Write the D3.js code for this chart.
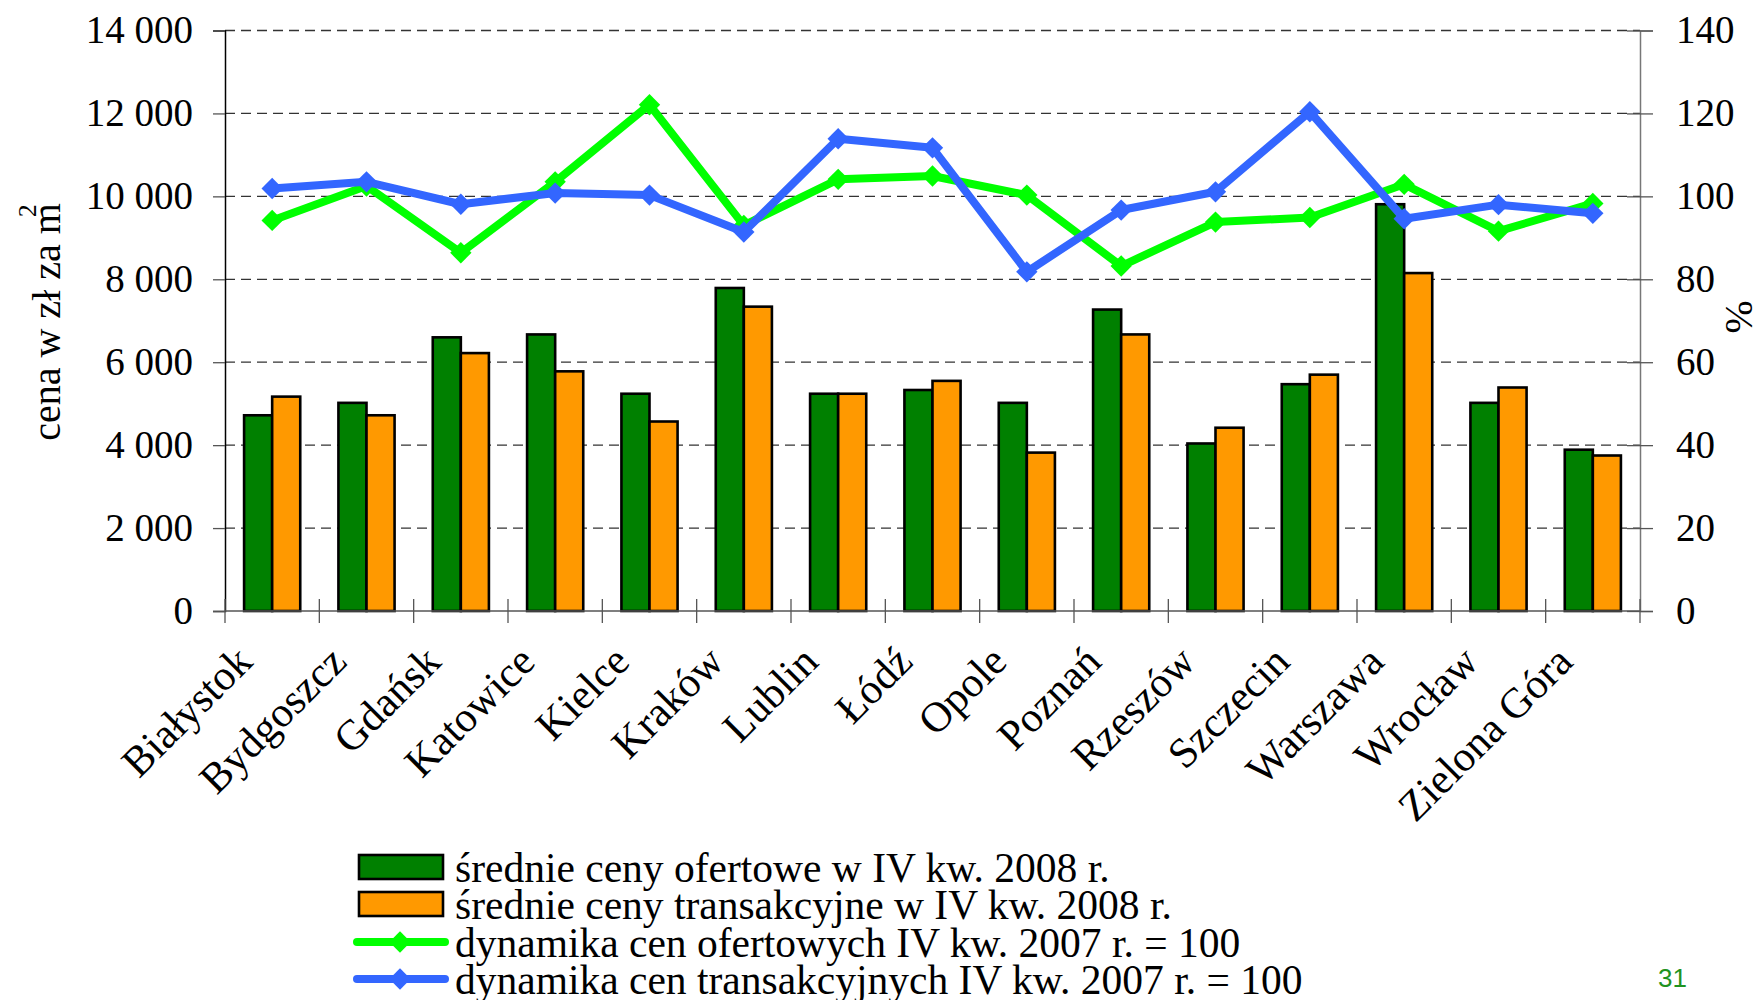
<!DOCTYPE html>
<html>
<head>
<meta charset="utf-8">
<script src="https://cdn.jsdelivr.net/npm/d3@7"></script>
<style>
  html, body { margin: 0; padding: 0; background: #fff; }
  svg { display: block; font-family: "Liberation Serif", "Times New Roman", serif; }
</style>
</head>
<body>
<div id="chart"></div>
<script>
const cities = ["Białystok", "Bydgoszcz", "Gdańsk", "Katowice", "Kielce", "Kraków", "Lublin",
  "Łódź", "Opole", "Poznań", "Rzeszów", "Szczecin", "Warszawa", "Wrocław", "Zielona Góra"];
const offerPrice = [4720, 5020, 6600, 6670, 5240, 7790, 5240, 5330, 5020, 7270, 4040, 5470, 9810, 5020, 3890];
const transPrice = [5170, 4720, 6220, 5780, 4570, 7340, 5240, 5550, 3820, 6670, 4420, 5700, 8150, 5390, 3750];
const offerIndex = [94.2, 102.5, 86.4, 103.5, 122.1, 93.0, 104.1, 104.9, 100.3, 83.2, 93.8, 94.9, 102.9, 91.6, 98.3];
const transIndex = [101.9, 103.5, 98.1, 100.8, 100.3, 91.4, 113.9, 111.7, 81.8, 96.7, 101.1, 120.4, 94.6, 98.0, 95.9];
const leftTicks = [0, 2000, 4000, 6000, 8000, 10000, 12000, 14000];
const rightTicks = [0, 20, 40, 60, 80, 100, 120, 140];
const legendLabels = [
  "średnie ceny ofertowe w IV kw. 2008 r.",
  "średnie ceny transakcyjne w IV kw. 2008 r.",
  "dynamika cen ofertowych IV kw. 2007 r. = 100",
  "dynamika cen transakcyjnych IV kw. 2007 r. = 100"
];

const width = 1758, height = 1000;
const x0 = 225, x1 = 1640, yTop = 30.5, yBot = 611;
const cGreen = "#008000", cOrange = "#ff9900", cLime = "#00ff00", cBlue = "#3366ff";

const svg = d3.select("#chart")
  .append("svg")
  .attr("width", width)
  .attr("height", height);

const xscale = d3.scaleBand().domain(cities).range([x0, x1]);
const xinner = d3.scaleBand().domain(["o", "t"]).range([0, xscale.bandwidth()]).paddingOuter(0.68);
const yscale = d3.scaleLinear().domain([0, 14000]).range([yBot, yTop]);
const yscale2 = d3.scaleLinear().domain([0, 140]).range([yBot, yTop]);

const fmt = (v) => d3.format(",")(v).replace(",", " ");

// gridlines
svg.append("g")
  .selectAll("line")
  .data(leftTicks.filter((d) => d > 0))
  .join("line")
  .attr("x1", x0).attr("x2", x1)
  .attr("y1", (d) => yscale(d)).attr("y2", (d) => yscale(d))
  .attr("stroke", "#333")
  .attr("stroke-width", 1.3)
  .attr("stroke-dasharray", "10,6");

// bars
const groups = svg.append("g")
  .selectAll("g")
  .data(cities)
  .join("g")
  .attr("transform", (d) => `translate(${xscale(d)},0)`);

groups.append("rect")
  .attr("x", xinner("o"))
  .attr("width", xinner.bandwidth())
  .attr("y", (d, i) => yscale(offerPrice[i]))
  .attr("height", (d, i) => yBot - yscale(offerPrice[i]))
  .attr("fill", cGreen)
  .attr("stroke", "#000")
  .attr("stroke-width", 2.6);

groups.append("rect")
  .attr("x", xinner("t"))
  .attr("width", xinner.bandwidth())
  .attr("y", (d, i) => yscale(transPrice[i]))
  .attr("height", (d, i) => yBot - yscale(transPrice[i]))
  .attr("fill", cOrange)
  .attr("stroke", "#000")
  .attr("stroke-width", 2.6);

// left axis
const yAxis = d3.axisLeft(yscale).tickValues(leftTicks).tickSize(12).tickFormat(fmt);
const gl = svg.append("g").attr("transform", `translate(${x0},0)`).call(yAxis);
gl.select(".domain").attr("stroke", "#000").attr("stroke-width", 1.5);
gl.selectAll(".tick line").attr("stroke", "#555").attr("stroke-width", 1.3);
gl.selectAll(".tick text")
  .attr("x", -32)
  .attr("font-family", "Liberation Serif")
  .attr("font-size", 39)
  .attr("fill", "#000");

// right axis
const yAxis2 = d3.axisRight(yscale2).tickValues(rightTicks).tickSize(13);
const gr = svg.append("g").attr("transform", `translate(${x1},0)`).call(yAxis2);
gr.select(".domain").attr("stroke", "#777").attr("stroke-width", 1.5);
gr.selectAll(".tick line").attr("x1", -13).attr("stroke", "#555").attr("stroke-width", 1.3);
gr.selectAll(".tick text")
  .attr("x", 36)
  .attr("font-family", "Liberation Serif")
  .attr("font-size", 39)
  .attr("fill", "#000");

// x axis with ticks on band boundaries
const bounds = cities.map((c) => xscale(c)).concat([x1]);
const gx = svg.append("g");
gx.append("line")
  .attr("x1", x0).attr("x2", x1)
  .attr("y1", yBot).attr("y2", yBot)
  .attr("stroke", "#555").attr("stroke-width", 1.5);
gx.selectAll(".xt")
  .data(bounds)
  .join("line")
  .attr("class", "xt")
  .attr("x1", (d) => d).attr("x2", (d) => d)
  .attr("y1", yBot - 12).attr("y2", yBot + 12)
  .attr("stroke", "#555").attr("stroke-width", 1.3);

gx.selectAll("text")
  .data(cities)
  .join("text")
  .attr("transform", (d) => `translate(${xscale(d) + xscale.bandwidth() / 2 - 18},${yBot + 53}) rotate(-45)`)
  .attr("text-anchor", "end")
  .attr("font-size", 42.5)
  .text((d) => d);

// lines
const line = d3.line()
  .x((d, i) => xscale(cities[i]) + xscale.bandwidth() / 2)
  .y((d) => yscale2(d));

const diamond = d3.symbol().type(d3.symbolDiamond2).size(290);

const drawSeries = (values, color) => {
  svg.append("path")
    .attr("d", line(values))
    .attr("fill", "none")
    .attr("stroke", color)
    .attr("stroke-width", 8)
    .attr("stroke-linejoin", "round");
  svg.append("g")
    .selectAll("path")
    .data(values)
    .join("path")
    .attr("d", diamond)
    .attr("transform", (d, i) => `translate(${xscale(cities[i]) + xscale.bandwidth() / 2},${yscale2(d)})`)
    .attr("fill", color);
};
drawSeries(offerIndex, cLime);
drawSeries(transIndex, cBlue);

// axis titles
const ylab = svg.append("text")
  .attr("transform", "translate(60,322) rotate(-90)")
  .attr("text-anchor", "middle")
  .attr("font-size", 40);
ylab.append("tspan").text("cena w zł za m");
ylab.append("tspan")
  .attr("font-size", 26)
  .attr("dx", -14)
  .attr("dy", -24)
  .text("2");

svg.append("text")
  .attr("transform", "translate(1726,317) rotate(90)")
  .attr("text-anchor", "middle")
  .attr("font-size", 40)
  .text("%");

// legend
const legendY = [867, 904, 942, 979];
const legend = svg.append("g");
legend.append("rect")
  .attr("x", 359).attr("y", legendY[0] - 12).attr("width", 84).attr("height", 24)
  .attr("fill", cGreen).attr("stroke", "#000").attr("stroke-width", 2.6);
legend.append("rect")
  .attr("x", 359).attr("y", legendY[1] - 12).attr("width", 84).attr("height", 24)
  .attr("fill", cOrange).attr("stroke", "#000").attr("stroke-width", 2.6);
[[legendY[2], cLime], [legendY[3], cBlue]].forEach(([y, color]) => {
  legend.append("line")
    .attr("x1", 357).attr("x2", 445).attr("y1", y).attr("y2", y)
    .attr("stroke", color).attr("stroke-width", 8).attr("stroke-linecap", "round");
  legend.append("path")
    .attr("d", diamond)
    .attr("transform", `translate(400,${y})`)
    .attr("fill", color);
});
legend.selectAll("text")
  .data(legendLabels)
  .join("text")
  .attr("x", 455)
  .attr("y", (d, i) => legendY[i])
  .attr("dy", "0.35em")
  .attr("font-size", 41.5)
  .text((d) => d);

// page number
svg.append("text")
  .attr("x", 1658)
  .attr("y", 987)
  .attr("font-family", "Liberation Sans")
  .attr("font-size", 26)
  .attr("fill", "#1f931f")
  .text("31");
</script>
</body>
</html>
